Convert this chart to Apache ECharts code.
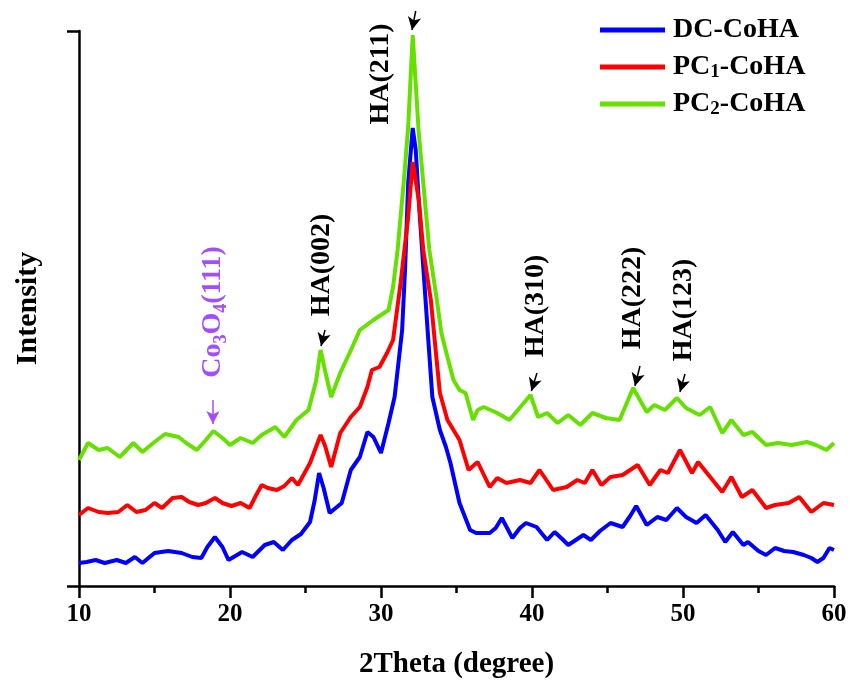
<!DOCTYPE html>
<html>
<head>
<meta charset="utf-8">
<script src="https://cdn.jsdelivr.net/npm/echarts@6/dist/echarts.min.js"></script>
<style>html,body{margin:0;padding:0;background:#fff}#c{width:849px;height:686px}</style>
</head>
<body>
<div id="c"></div>
<script>
// 2Theta (degree), intensity (a.u.)
const seriesNames = ['DC-CoHA', 'PC1-CoHA', 'PC2-CoHA'];
const xTicks = [10, 20, 30, 40, 50, 60];

const dcCoHA = [[10,23],[10.5,24],[11.1,26],[11.7,23],[12.5,26],[13.1,23],[13.7,29],[14.2,23],[15.0,33],[15.9,35],[16.8,33],[17.5,29],[18.1,28],[18.5,39],[19.0,49],[19.5,39],[19.9,26],[20.8,34],[21.5,29],[22.3,41],[22.9,44],[23.5,36],[24.1,46],[24.7,52],[25.3,64],[25.6,85],[25.9,113],[26.2,98],[26.6,73],[27.0,78],[27.4,83],[28.0,116],[28.6,129],[29.1,154],[29.5,149],[30.0,133],[30.5,163],[30.9,189],[31.2,229],[31.4,256],[31.6,319],[31.8,403],[32.1,458],[32.3,436],[32.5,386],[32.8,319],[33.1,253],[33.4,189],[33.9,156],[34.3,139],[34.6,123],[35.2,83],[35.9,56],[36.3,53],[36.6,53],[37.2,53],[37.6,58],[38.0,68],[38.7,48],[39.2,58],[39.6,63],[40.3,59],[41.0,46],[41.5,54],[42.0,47],[42.4,41],[43.0,47],[43.4,51],[43.9,46],[44.5,55],[45.2,63],[46.0,59],[46.5,70],[46.9,80],[47.6,61],[48.3,69],[48.9,66],[49.6,78],[50.2,69],[50.9,63],[51.5,71],[52.3,56],[52.8,44],[53.3,54],[54.0,41],[54.3,44],[55.0,35],[55.5,31],[56.1,38],[56.7,35],[57.3,34],[58.0,31],[58.5,28],[58.9,24],[59.3,28],[59.7,38],[60,36]];

const pc1CoHA = [[10,71],[10.6,78],[11.3,74],[11.9,73],[12.6,74],[13.2,81],[13.8,74],[14.4,76],[15.0,83],[15.5,78],[16.2,88],[16.8,89],[17.3,84],[17.9,81],[18.4,83],[19.0,88],[19.5,83],[20.1,80],[20.7,83],[21.3,78],[21.7,90],[22.1,101],[22.5,98],[23.1,96],[23.6,100],[24.1,108],[24.5,101],[25.3,123],[26.0,151],[26.3,140],[26.7,119],[27.3,153],[28.0,169],[28.6,179],[29.1,199],[29.4,216],[29.9,219],[30.4,233],[30.8,246],[31.3,303],[31.8,369],[32.1,424],[32.5,386],[32.8,336],[33.3,286],[33.6,239],[33.9,193],[34.4,166],[35.2,146],[35.8,116],[36.4,124],[37.2,99],[37.7,108],[38.3,103],[39.2,106],[39.9,103],[40.5,116],[41.4,96],[42.3,99],[43.0,106],[43.5,103],[44.0,116],[44.6,101],[45.2,109],[46.0,111],[47.0,121],[47.8,101],[48.5,116],[49.0,113],[49.8,136],[50.6,113],[51.0,124],[51.8,109],[52.6,94],[53.2,109],[53.9,89],[54.6,96],[55.5,78],[56.1,81],[57.0,83],[57.7,89],[58.5,74],[59.3,83],[60,81]];

const pc2CoHA = [[10,126],[10.6,143],[11.3,136],[11.9,138],[12.7,129],[13.6,143],[14.2,134],[15.0,144],[15.7,152],[16.6,149],[17.1,143],[17.8,136],[18.4,146],[18.9,155],[19.5,148],[20.0,141],[20.7,148],[21.5,143],[22.1,151],[23.0,159],[23.6,149],[24.4,166],[25.2,176],[25.7,205],[26.0,236],[26.3,215],[26.7,189],[27.3,213],[28.1,239],[28.6,256],[29.5,266],[30.5,276],[30.8,299],[31.1,336],[31.5,403],[31.8,459],[32.1,551],[32.5,453],[32.8,403],[33.2,336],[33.7,286],[34.0,253],[34.4,229],[34.8,206],[35.2,196],[35.6,193],[36.1,166],[36.4,176],[36.8,179],[37.7,173],[38.5,166],[38.9,173],[39.9,191],[40.4,169],[41.0,173],[41.7,163],[42.4,171],[43.2,161],[44.0,173],[44.9,168],[45.8,166],[46.7,198],[47.6,174],[48.1,181],[48.8,176],[49.6,188],[50.2,178],[51.1,171],[51.8,179],[52.6,153],[53.2,166],[54.0,151],[54.6,154],[55.5,141],[56.3,143],[57.2,141],[58.2,144],[58.8,141],[59.5,136],[60,143]];

// peak annotations (same intensity units): label, label centre [x, y], arrow from [x, y] to [x, y]
const peakLabels = ['Co3O4(111)', 'HA(002)', 'HA(211)', 'HA(310)', 'HA(222)', 'HA(123)'];
const labelCentres = [[18.87, 274], [26.09, 321], [30.0, 512], [40.26, 280], [46.69, 288], [50.07, 276]];
const arrowFrom = [[18.87, 186], [26.29, 256], [32.30, 575], [40.33, 213], [47.15, 220], [50.13, 212]];
const arrowTo = [[18.87, 162], [26.03, 240], [32.05, 556], [39.96, 195], [46.82, 200], [49.80, 194]];

const FONT = '"Liberation Serif", "Times New Roman", serif';
const PURPLE = '#a24dff';
const colors = ['#0000ff', '#ff0000', '#66e000'];

function labelText(name) {
  if (name === 'Co3O4(111)') return '{n|Co}{s|3}{n|O}{s|4}{n|(111)}';
  return '{b|' + name + '}';
}

const markPointData = peakLabels.map((name, i) => ({
  name: name,
  coord: labelCentres[i],
  label: {
    formatter: labelText(name),
    color: name.startsWith('Co') ? PURPLE : '#000'
  }
}));

const markLineData = peakLabels.map((name, i) => [
  { coord: arrowFrom[i], lineStyle: { color: name.startsWith('Co') ? PURPLE : '#000' }, itemStyle: { color: name.startsWith('Co') ? PURPLE : '#000' } },
  { coord: arrowTo[i] }
]);

const chart = echarts.init(document.getElementById('c'));
const dataSets = [dcCoHA, pc1CoHA, pc2CoHA];

const series = seriesNames.map((name, i) => ({
  name: name,
  type: 'line',
  data: dataSets[i],
  showSymbol: false,
  symbol: 'none',
  clip: false,
  lineStyle: { color: colors[i], width: 4 },
  itemStyle: { color: colors[i] },
  emphasis: { disabled: true },
  z: 2 + i
}));

// annotation layer: same x scale and same intensity-per-pixel scale, extended to the top edge
series.push({
  name: 'annotations',
  type: 'line',
  xAxisIndex: 1,
  yAxisIndex: 1,
  data: [],
  symbol: 'none',
  silent: true,
  z: 10,
  markPoint: {
    symbol: 'circle',
    symbolSize: 1,
    itemStyle: { color: 'rgba(0,0,0,0)' },
    silent: true,
    label: {
      show: true,
      position: 'inside',
      rotate: 90,
      fontFamily: FONT,
      fontWeight: 'bold',
      rich: {
        b: { fontFamily: FONT, fontWeight: 'bold', fontSize: 28, color: '#000' },
        n: { fontFamily: FONT, fontWeight: 'bold', fontSize: 28, color: PURPLE, lineHeight: 34, verticalAlign: 'middle' },
        s: { fontFamily: FONT, fontWeight: 'bold', fontSize: 18, color: PURPLE, lineHeight: 34, verticalAlign: 'bottom', padding: [12, 0, 0, 0] }
      }
    },
    data: markPointData
  },
  markLine: {
    silent: true,
    symbol: ['none', 'arrow'],
    symbolSize: [10, 13],
    label: { show: false },
    lineStyle: { color: '#000', width: 1.5, type: 'solid' },
    itemStyle: { color: '#000' },
    emphasis: { disabled: true },
    data: markLineData
  }
});

chart.setOption({
  animation: false,
  backgroundColor: '#fff',
  grid: [
    { left: 79, right: 15, top: 31, bottom: 100, containLabel: false, outerBoundsMode: 'none' },
    { left: 79, right: 15, top: 0, bottom: 100, containLabel: false, outerBoundsMode: 'none' }
  ],
  legend: {
    orient: 'vertical',
    left: 595,
    top: 10,
    icon: 'rect',
    itemWidth: 65,
    itemHeight: 5,
    itemGap: 7,
    selectedMode: false,
    data: seriesNames,
    formatter: function (name) {
      const m = name.match(/^PC(\d)(.*)$/);
      if (m) return '{t|PC}{s|' + m[1] + '}{t|' + m[2] + '}';
      return '{t|' + name + '}';
    },
    textStyle: {
      padding: [0, 0, 0, 3],
      lineHeight: 30,
      rich: {
        t: { fontFamily: FONT, fontWeight: 'bold', fontSize: 28, color: '#000', lineHeight: 30 },
        s: { fontFamily: FONT, fontWeight: 'bold', fontSize: 19, color: '#000', lineHeight: 30, verticalAlign: 'bottom' }
      }
    }
  },
  xAxis: [{
    type: 'value',
    gridIndex: 0,
    min: 10,
    max: 60,
    interval: 10,
    name: '2Theta (degree)',
    nameLocation: 'middle',
    nameGap: 64,
    nameTextStyle: { fontFamily: FONT, fontWeight: 'bold', fontSize: 29, color: '#000' },
    axisLine: { show: true, onZero: false, lineStyle: { color: '#000', width: 2.5 } },
    axisTick: { show: true, inside: false, length: 12, lineStyle: { color: '#000', width: 2.5 } },
    minorTick: { show: true, splitNumber: 2, length: 7, lineStyle: { color: '#000', width: 2.5 } },
    axisLabel: { margin: 16, fontFamily: FONT, fontWeight: 'bold', fontSize: 25, color: '#000', formatter: function (v) { return xTicks.indexOf(v) >= 0 ? String(v) : ''; } },
    splitLine: { show: false }
  }, {
    type: 'value',
    gridIndex: 1,
    min: 10,
    max: 60,
    show: false
  }],
  yAxis: [{
    type: 'value',
    gridIndex: 0,
    min: 0,
    max: 555,
    interval: 555,
    name: 'Intensity',
    nameLocation: 'middle',
    nameRotate: 90,
    nameGap: 36,
    nameTextStyle: { fontFamily: FONT, fontWeight: 'bold', fontSize: 30, color: '#000' },
    axisLine: { show: true, lineStyle: { color: '#000', width: 2.5 } },
    axisTick: { show: true, inside: false, length: 12, lineStyle: { color: '#000', width: 2.5 } },
    axisLabel: { show: false },
    splitLine: { show: false }
  }, {
    type: 'value',
    gridIndex: 1,
    min: 0,
    max: 586,
    show: false
  }],
  series: series
});
</script>
</body>
</html>
